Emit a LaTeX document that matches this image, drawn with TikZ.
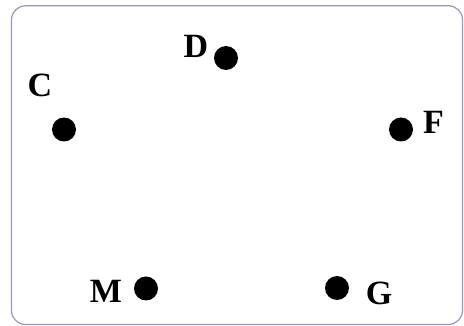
\documentclass[tikz,border=0pt]{standalone}
\usepackage{fontspec}
\setmainfont{Liberation Serif}
\begin{document}
\begin{tikzpicture}[x=1pt,y=-1pt,
  dot/.style={circle,fill=black,inner sep=0pt,minimum size=24pt},
  lbl/.style={inner sep=0pt,font=\fontsize{34}{34}\selectfont\bfseries}]
\useasboundingbox (0,0) rectangle (464,326);
\definecolor{framecol}{RGB}{150,150,190}
\draw[framecol,line width=1.2pt,rounded corners=14pt] (11.5,5.8) rectangle (462.5,324.5);
\node[dot] (d) at (226,58) {};
\node[dot] (c) at (64,129.5) {};
\node[dot] (f) at (401,129.5) {};
\node[dot] (m) at (146,288.5) {};
\node[dot] (g) at (337,288) {};
\node[lbl] (ld) at (196,46) {D};
\node[lbl] (lc) at (40,85) {C};
\node[lbl] (lf) at (433.5,122) {F};
\node[lbl] (lm) at (106,291.5) {M};
\node[lbl] (lg) at (379,293.5) {G};
\end{tikzpicture}
\end{document}
